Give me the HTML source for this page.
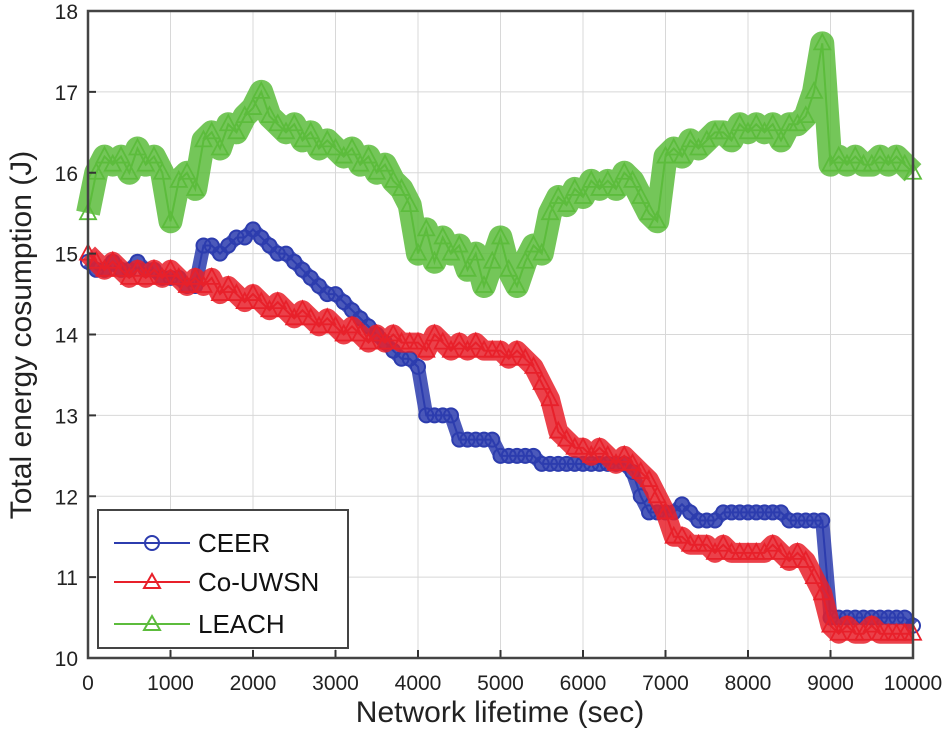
<!DOCTYPE html>
<html><head><meta charset="utf-8"><style>
body{margin:0;background:#fff;}
svg{display:block;font-family:"Liberation Sans",sans-serif;}
</style></head><body>
<svg id="chart" width="950" height="755" viewBox="0 0 950 755" xmlns="http://www.w3.org/2000/svg">
<g id="grid"></g>
<g id="series"></g>
<g id="axes"></g>
<text x="500" y="722" font-size="30" text-anchor="middle" fill="#222">Network lifetime (sec)</text>
<text transform="translate(31,335) rotate(-90)" font-size="30" text-anchor="middle" fill="#222">Total energy cosumption (J)</text>
<g>
<rect x="98" y="510" width="250" height="138" fill="#fff" stroke="#444" stroke-width="2"/>
<g>
<line x1="114" y1="543" x2="190" y2="543" stroke="#2c3cae" stroke-width="2"/><circle cx="152" cy="543" r="7" fill="none" stroke="#2c3cae" stroke-width="2"/>
<text x="198" y="552" font-size="26" fill="#111">CEER</text></g>
<g>
<line x1="114" y1="582" x2="190" y2="582" stroke="#e8202a" stroke-width="2"/><path d="M152 574 L160 588 L144 588 Z" fill="none" stroke="#e8202a" stroke-width="2"/>
<text x="198" y="591" font-size="26" fill="#111">Co-UWSN</text></g>
<g>
<line x1="114" y1="624" x2="190" y2="624" stroke="#5cbc3c" stroke-width="2"/><path d="M152 616 L160 630 L144 630 Z" fill="none" stroke="#5cbc3c" stroke-width="2"/>
<text x="198" y="633" font-size="26" fill="#111">LEACH</text></g>
</g>
</svg>
<script>
const xTicks=[0,1000,2000,3000,4000,5000,6000,7000,8000,9000,10000];
const yTicks=[10,11,12,13,14,15,16,17,18];
const times=[];for(let i=0;i<=100;i++)times.push(i*100);
const leach=[15.5,16.0,16.2,16.1,16.2,16.0,16.3,16.1,16.2,16.0,
15.4,15.9,16.0,15.8,16.4,16.5,16.3,16.6,16.5,16.7,
16.8,17.0,16.7,16.6,16.5,16.6,16.4,16.5,16.3,16.4,
16.3,16.2,16.3,16.1,16.2,16.0,16.1,15.9,15.8,15.6,
15.0,15.3,14.9,15.2,15.0,15.1,14.8,15.0,14.6,14.9,
15.2,14.8,14.6,14.9,15.1,15.0,15.5,15.7,15.6,15.8,
15.7,15.9,15.8,15.9,15.8,16.0,15.9,15.7,15.5,15.4,
16.2,16.3,16.2,16.4,16.3,16.4,16.5,16.5,16.4,16.6,
16.5,16.6,16.5,16.6,16.4,16.6,16.6,16.7,17.0,17.6,
16.1,16.2,16.1,16.2,16.1,16.1,16.2,16.1,16.2,16.1,16.0];
const ceer=[14.9,14.8,14.8,14.9,14.8,14.8,14.9,14.8,14.8,14.7,
14.7,14.7,14.6,14.6,15.1,15.1,15.0,15.1,15.2,15.2,
15.3,15.2,15.1,15.0,15.0,14.9,14.8,14.7,14.6,14.5,
14.5,14.4,14.3,14.2,14.1,14.0,13.9,13.8,13.7,13.7,
13.6,13.0,13.0,13.0,13.0,12.7,12.7,12.7,12.7,12.7,
12.5,12.5,12.5,12.5,12.5,12.4,12.4,12.4,12.4,12.4,
12.4,12.4,12.4,12.4,12.4,12.4,12.3,12.0,11.8,11.8,
11.8,11.8,11.9,11.8,11.7,11.7,11.7,11.8,11.8,11.8,
11.8,11.8,11.8,11.8,11.8,11.7,11.7,11.7,11.7,11.7,
10.5,10.5,10.5,10.5,10.5,10.5,10.5,10.5,10.5,10.5,10.4];
const couwsn=[15.0,14.9,14.8,14.9,14.8,14.7,14.8,14.7,14.8,14.7,
14.8,14.7,14.6,14.7,14.6,14.7,14.5,14.6,14.5,14.4,
14.5,14.4,14.3,14.4,14.3,14.2,14.3,14.2,14.1,14.2,
14.1,14.0,14.1,14.0,13.9,14.0,13.9,14.0,13.9,13.9,
13.9,13.8,14.0,13.9,13.8,13.9,13.8,13.9,13.8,13.8,
13.8,13.7,13.8,13.7,13.6,13.4,13.2,12.8,12.7,12.6,
12.6,12.5,12.6,12.5,12.4,12.5,12.4,12.3,12.2,12.0,
11.8,11.5,11.5,11.4,11.4,11.4,11.3,11.4,11.3,11.3,
11.3,11.3,11.3,11.4,11.3,11.2,11.3,11.2,11.0,10.8,
10.4,10.3,10.4,10.3,10.3,10.4,10.3,10.3,10.3,10.3,10.3];
const X0=88,X1=913,Y0=658,Y1=11;
const xs=v=>X0+(v-0)/10000*(X1-X0);
const ys=v=>Y0-(v-10)/8*(Y0-Y1);
const NS="http://www.w3.org/2000/svg";
function mk(tag,attrs,parent){const e=document.createElementNS(NS,tag);for(const k in attrs)e.setAttribute(k,attrs[k]);parent.appendChild(e);return e;}
const grid=document.getElementById('grid'),axes=document.getElementById('axes'),ser=document.getElementById('series');
mk('rect',{x:X0,y:Y1,width:X1-X0,height:Y0-Y1,fill:'#fff'},grid);
xTicks.forEach(t=>{
 const l=mk('line',{x1:xs(t),x2:xs(t),y1:Y1,y2:Y0,stroke:'#d8d8d8','stroke-width':1},grid);
 
 const tk=mk('line',{x1:xs(t),x2:xs(t),y1:Y0,y2:Y0-8,stroke:'#333','stroke-width':2},axes);
 
 const tx=mk('text',{x:xs(t),y:Y0+32,'font-size':21,'text-anchor':'middle',fill:'#222'},axes);tx.textContent=t;
 
});
yTicks.forEach(t=>{
 const l=mk('line',{x1:X0,x2:X1,y1:ys(t),y2:ys(t),stroke:'#d8d8d8','stroke-width':1},grid);
 
 const tk=mk('line',{x1:X0,x2:X0+8,y1:ys(t),y2:ys(t),stroke:'#333','stroke-width':2},axes);
 
 const tx=mk('text',{x:X0-10,y:ys(t)+8,'font-size':21,'text-anchor':'end',fill:'#222'},axes);tx.textContent=t;
 
});
const fr=mk('rect',{x:X0,y:Y1,width:X1-X0,height:Y0-Y1,fill:'none',stroke:'#444','stroke-width':2.5},axes);

function series(vals,color,marker,name,band){
 const g=mk('g',{},ser);
 
 const pts=vals.map((v,i)=>xs(times[i])+','+ys(v)).join(' ');
 mk('polyline',{points:pts,fill:'none',stroke:color,'stroke-width':band,'stroke-opacity':0.85,'stroke-linejoin':'round'},g);
 mk('polyline',{points:pts,fill:'none',stroke:color,'stroke-width':2},g);
 vals.forEach((v,i)=>{
  const x=xs(times[i]),y=ys(v);
  let m;
  if(marker==='o')m=mk('circle',{cx:x,cy:y,r:7,fill:'none',stroke:color,'stroke-width':2},g);
  else m=mk('path',{d:`M${x} ${y-9} L${x+8} ${y+6} L${x-8} ${y+6} Z`,fill:'none',stroke:color,'stroke-width':1.8},g);
  
  
 });
}
series(leach,'#5cbc3c','t','leach-series',24);
series(ceer,'#2c3cae','o','ceer-series',14);
series(couwsn,'#e8202a','t','co-uwsn-series',20);
</script>
</body></html>
